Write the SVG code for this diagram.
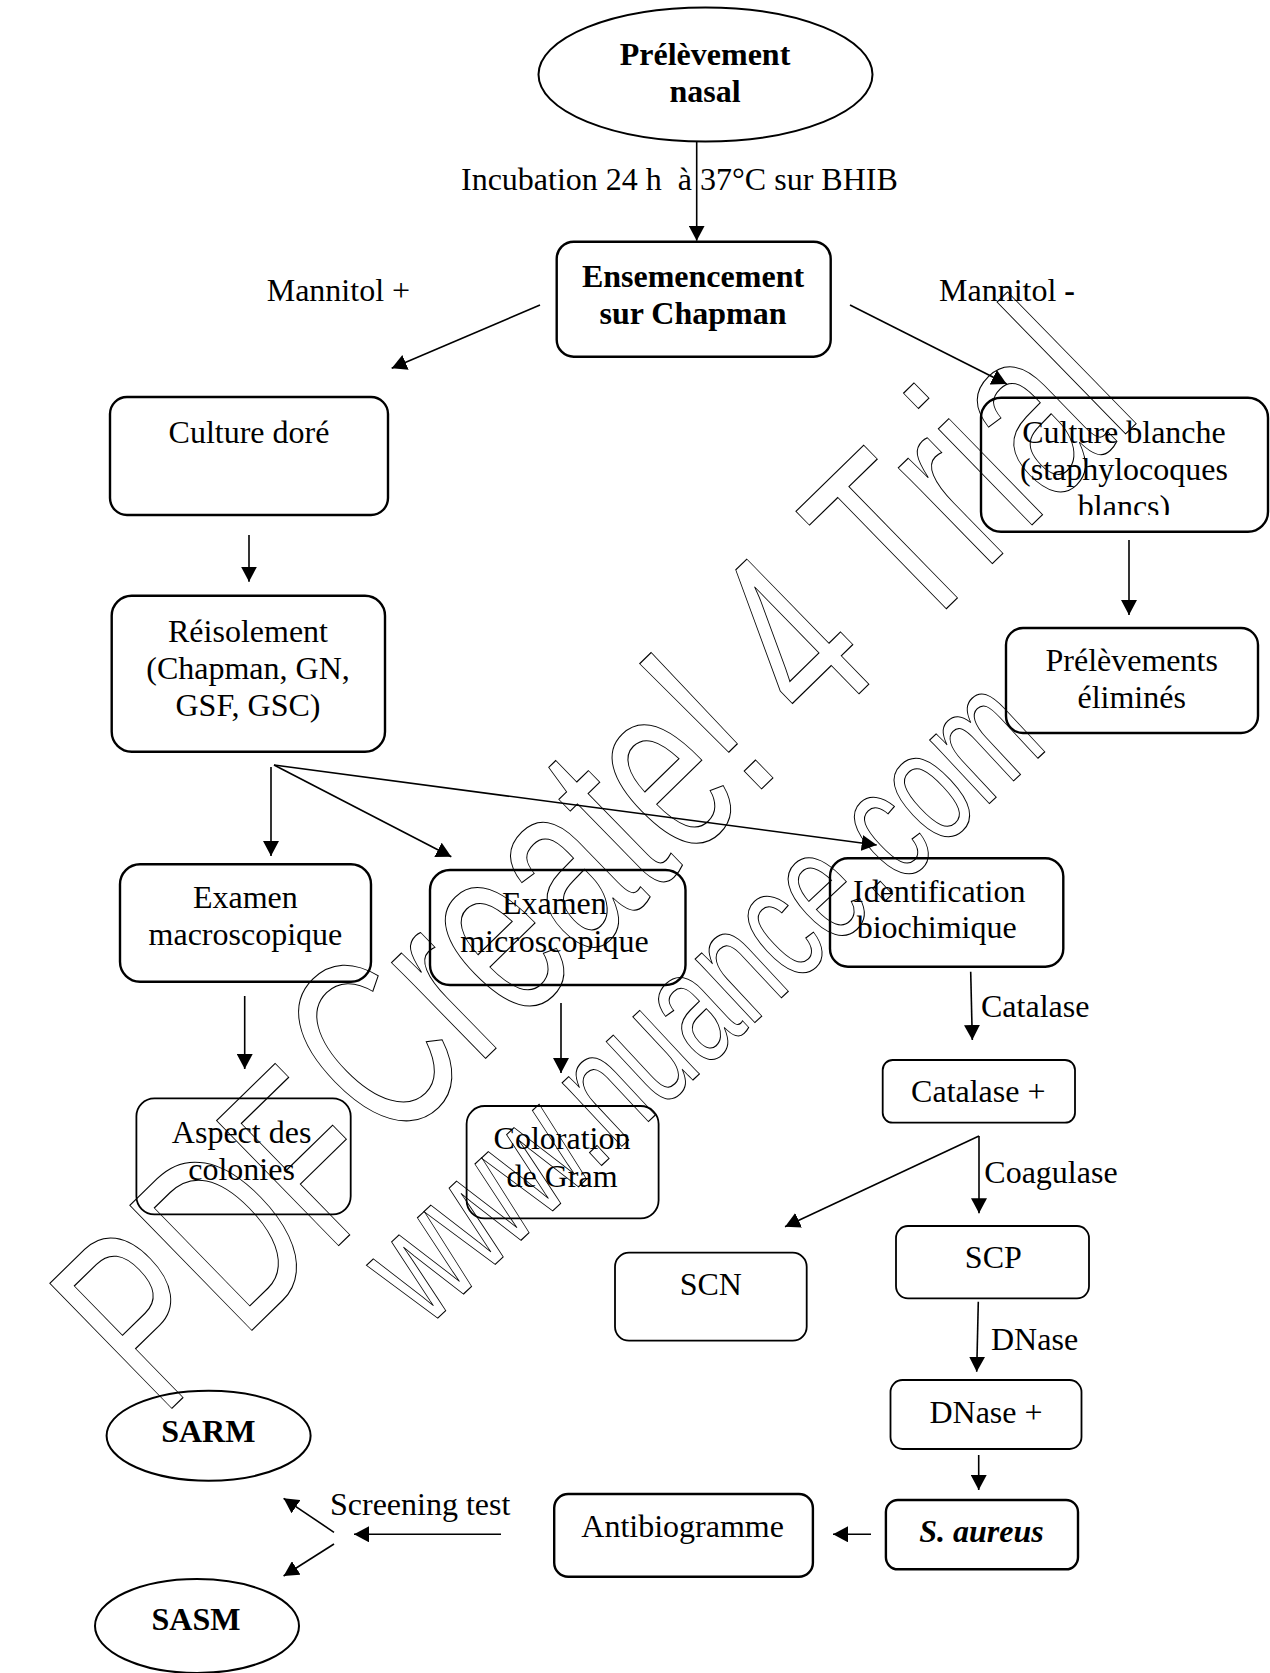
<svg xmlns="http://www.w3.org/2000/svg" width="1270" height="1673" viewBox="0 0 1270 1673">
  <defs>
    <marker id="arr" viewBox="0 0 16 16" markerUnits="userSpaceOnUse" markerWidth="16" markerHeight="16" refX="15" refY="8" orient="auto">
      <path d="M0,0 L15,8 L0,16 Z" fill="#000"/>
    </marker>
    <clipPath id="clipBlanche">
      <rect x="981" y="397" width="290" height="118"/>
    </clipPath>
    <style>
      .box { fill: #fff; stroke: #000; stroke-width: 2.4; }
      .thin { stroke-width: 1.8; }
      .ell { fill: #fff; stroke: #000; stroke-width: 2; }
      .t { font-family: "Liberation Serif", "Times New Roman", serif; font-size: 32px; fill: #000; }
      .c { text-anchor: middle; }
      .b { font-weight: bold; }
      .bi { font-weight: bold; font-style: italic; }
      .edge { stroke: #000; stroke-width: 1.6; fill: none; marker-end: url(#arr); }
      .wm { font-family: "Liberation Sans", Arial, sans-serif; fill: none; stroke: #000; stroke-width: 1; }
    </style>
  </defs>
  <rect x="0" y="0" width="1270" height="1673" fill="#fff"/>

  <g id="connectors">
    <line class="edge" x1="696.7" y1="142" x2="696.7" y2="240.7"/>
    <line class="edge" x1="540" y1="305" x2="391.7" y2="368.3"/>
    <line class="edge" x1="850" y1="305" x2="1006.7" y2="384"/>
    <line class="edge" x1="249" y1="535" x2="249" y2="581.7"/>
    <line class="edge" x1="1129" y1="540" x2="1129" y2="615"/>
    <line class="edge" x1="271" y1="767" x2="271" y2="856"/>
    <line class="edge" x1="274" y1="765" x2="451.3" y2="856.7"/>
    <line class="edge" x1="274" y1="765" x2="876.7" y2="845"/>
    <line class="edge" x1="244.7" y1="996" x2="244.7" y2="1069"/>
    <line class="edge" x1="561" y1="1003" x2="561" y2="1073"/>
    <line class="edge" x1="970.7" y1="971.7" x2="972.3" y2="1040"/>
    <line class="edge" x1="979" y1="1136" x2="979" y2="1213.3"/>
    <line class="edge" x1="979" y1="1136" x2="785" y2="1226.7"/>
    <line class="edge" x1="978.3" y1="1301.7" x2="976.7" y2="1371.7"/>
    <line class="edge" x1="978.7" y1="1455" x2="978.7" y2="1490"/>
    <line class="edge" x1="871" y1="1534.3" x2="833" y2="1534.3"/>
    <line class="edge" x1="501" y1="1534.3" x2="354" y2="1534.3"/>
    <line class="edge" x1="334" y1="1532.3" x2="283.6" y2="1498.3"/>
    <line class="edge" x1="334" y1="1544" x2="283.6" y2="1576"/>
    <g id="edge-labels">
      <text class="t" x="461" y="190" xml:space="preserve">Incubation 24 h  à 37°C sur BHIB</text>
      <text class="t" x="266.7" y="300.7">Mannitol +</text>
      <text class="t" x="939" y="300.7">Mannitol <tspan class="b">-</tspan></text>
      <text class="t" x="981" y="1017.3">Catalase</text>
      <text class="t" x="984.3" y="1182.7">Coagulase</text>
      <text class="t" x="991" y="1350">DNase</text>
      <text class="t" x="330" y="1515">Screening test</text>
    </g>
  </g>

  <g id="n_prelevement">
    <ellipse class="ell" cx="705.5" cy="74.5" rx="167" ry="67"/>
    <text class="t c b" x="705" y="65">Prélèvement</text>
    <text class="t c b" x="705" y="101.5">nasal</text>
  </g>
  <g id="n_ensemencement">
    <rect class="box" x="556.7" y="241.7" width="274" height="115" rx="17"/>
    <text class="t c b" x="693" y="287">Ensemencement</text>
    <text class="t c b" x="693" y="324">sur Chapman</text>
  </g>
  <g id="n_culture_doree">
    <rect class="box" x="110" y="397" width="278" height="118" rx="17"/>
    <text class="t c" x="249" y="443">Culture doré</text>
  </g>
  <g id="n_culture_blanche">
    <rect class="box" x="981" y="397.7" width="287" height="134" rx="20"/>
    <g clip-path="url(#clipBlanche)">
      <text class="t c" x="1124" y="442.7">Culture blanche</text>
      <text class="t c" x="1124" y="480">(staphylocoques</text>
      <text class="t c" x="1124" y="517">blancs)</text>
    </g>
  </g>
  <g id="n_prelevements_elimines">
    <rect class="box" x="1006" y="628" width="252" height="105" rx="17"/>
    <text class="t c" x="1131.7" y="670.7">Prélèvements</text>
    <text class="t c" x="1131.7" y="708.3">éliminés</text>
  </g>
  <g id="n_reisolement">
    <rect class="box" x="111.7" y="595.7" width="273.3" height="156" rx="20"/>
    <text class="t c" x="248" y="642">Réisolement</text>
    <text class="t c" x="248" y="679">(Chapman, GN,</text>
    <text class="t c" x="248" y="716">GSF, GSC)</text>
  </g>
  <g id="n_examen_macro">
    <rect class="box" x="120" y="864.3" width="251" height="117.4" rx="20"/>
    <text class="t c" x="245.4" y="908.3">Examen</text>
    <text class="t c" x="245.4" y="945">macroscopique</text>
  </g>
  <g id="n_examen_micro">
    <rect class="box" x="430" y="870" width="255.5" height="115" rx="20"/>
    <text class="t c" x="554.4" y="914">Examen</text>
    <text class="t c" x="554.4" y="951.7">microscopique</text>
  </g>
  <g id="n_identification">
    <rect class="box" x="830" y="858.3" width="233.3" height="108.4" rx="18"/>
    <text class="t" x="853" y="901.7">Identification</text>
    <text class="t" x="856.7" y="938.3">biochimique</text>
  </g>
  <g id="n_catalase_pos">
    <rect class="box thin" x="882.7" y="1060" width="192.3" height="62.7" rx="10"/>
    <text class="t c" x="978.3" y="1101.7">Catalase +</text>
  </g>
  <g id="n_aspect">
    <rect class="box thin" x="136.4" y="1098.3" width="214.3" height="116" rx="18"/>
    <text class="t c" x="241.6" y="1143.3">Aspect des</text>
    <text class="t c" x="241.6" y="1180">colonies</text>
  </g>
  <g id="n_coloration">
    <rect class="box thin" x="466.6" y="1106" width="192" height="112.3" rx="18"/>
    <text class="t c" x="562" y="1149.3">Coloration</text>
    <text class="t c" x="562" y="1186.7">de Gram</text>
  </g>
  <g id="n_scp">
    <rect class="box thin" x="896" y="1226" width="193" height="72.3" rx="12"/>
    <text class="t c" x="993.3" y="1268.3">SCP</text>
  </g>
  <g id="n_scn">
    <rect class="box thin" x="615" y="1252.7" width="191.7" height="88" rx="14"/>
    <text class="t c" x="710.8" y="1295">SCN</text>
  </g>
  <g id="n_dnase_pos">
    <rect class="box thin" x="890.5" y="1380" width="191" height="69" rx="12"/>
    <text class="t c" x="986" y="1423.3">DNase +</text>
  </g>
  <g id="n_sarm">
    <ellipse class="ell" cx="208.6" cy="1435.7" rx="102" ry="45"/>
    <text class="t c b" x="208.3" y="1441.7">SARM</text>
  </g>
  <g id="n_antibiogramme">
    <rect class="box" x="554.2" y="1494" width="258.7" height="82.7" rx="14"/>
    <text class="t c" x="682.6" y="1536.7">Antibiogramme</text>
  </g>
  <g id="n_saureus">
    <rect class="box" x="885.9" y="1500" width="192.1" height="69.3" rx="12"/>
    <text class="t c bi" x="981.5" y="1541.7">S. aureus</text>
  </g>
  <g id="n_sasm">
    <ellipse class="ell" cx="197" cy="1626" rx="102" ry="47"/>
    <text class="t c b" x="196" y="1630">SASM</text>
  </g>

  <g id="watermark">
    <g transform="translate(162,1418) rotate(-44.3) scale(0.66,1)">
      <text class="wm" x="0" y="0" font-size="254" vector-effect="non-scaling-stroke">PDF</text>
    </g>
    <g transform="translate(117.3,1417.7) rotate(-44.3) scale(0.66,1)">
      <text class="wm" x="578.6" y="0" font-size="254" vector-effect="non-scaling-stroke">Create! 4 Trial</text>
    </g>
    <g transform="translate(426,1329) rotate(-43) scale(0.66,1)">
      <text class="wm" x="0" y="0" font-size="165" vector-effect="non-scaling-stroke">www.nuance.com</text>
    </g>
  </g>
</svg>
